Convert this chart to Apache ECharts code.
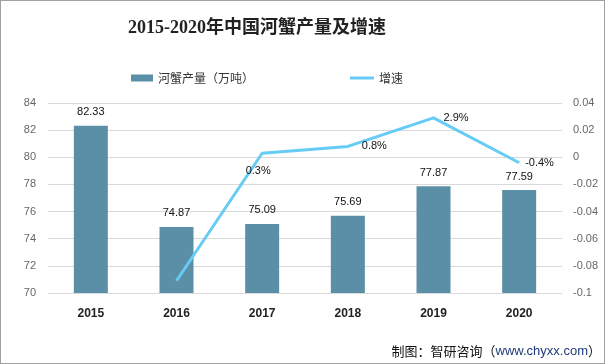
<!DOCTYPE html>
<html><head><meta charset="utf-8">
<script src="https://cdn.jsdelivr.net/npm/echarts@6/dist/echarts.min.js"></script>
<style>html,body{margin:0;padding:0;background:#fff}#c{width:605px;height:364px;box-sizing:border-box;border:1px solid #a0a0a0}</style>
</head><body><div id="c"></div>
<script>
var categories = ['2015','2016','2017','2018','2019','2020'];
var output = [82.33, 74.87, 75.09, 75.69, 77.87, 77.59];
var growth = [null, -0.091, 0.003, 0.008, 0.029, -0.004];
var growthLabels = ['', '', '0.3%', '0.8%', '2.9%', '-0.4%'];

var chart = echarts.init(document.getElementById('c'));
var lineData = growth.map(function(v, i){
  var d = {value: v};
  if (i === 1) d.label = {show: false};
  if (i === 2) d.label = {position: 'bottom', offset: [-4, 6]};
  if (i === 3) d.label = {distance: 14};
  if (i === 4) d.label = {distance: 10};
  return d;
});
chart.setOption({
  animation: false,
  title: {text: '2015-2020年中国河蟹产量及增速', left: 122, top: 13,
    textStyle: {fontFamily: "'Liberation Serif','Noto Sans CJK SC'", fontSize: 18, fontWeight: 'bold', color: '#222'}},
  legend: [{data: [{name: '河蟹产量（万吨）', icon: 'rect'}], left: 125, top: 66, itemWidth: 22, itemHeight: 7, itemGap: 4,
    textStyle: {fontSize: 12, color: '#333', fontFamily: "'Noto Sans CJK SC'"}},
    {data: [{name: '增速', icon: 'rect'}], left: 344, top: 66, itemWidth: 24, itemHeight: 3,
    textStyle: {fontSize: 12, color: '#333', fontFamily: "'Noto Sans CJK SC'"}}],
  grid: {left: 47, right: 42, top: 102, bottom: 70},
  xAxis: {type: 'category', data: categories, axisTick: {show: false},
    axisLine: {lineStyle: {color: '#d9d9d9'}},
    axisLabel: {color: '#222', fontWeight: 'bold', fontSize: 12, margin: 15, fontFamily: "'Liberation Sans'"}},
  yAxis: [{type: 'value', min: 70, max: 84, interval: 2,
    axisLine: {show: false}, axisTick: {show: false},
    splitLine: {lineStyle: {color: '#d9d9d9'}},
    axisLabel: {color: '#666', fontSize: 11, margin: 12, fontFamily: "'Liberation Sans'"}},
   {type: 'value', min: -0.1, max: 0.04, interval: 0.02,
    axisLine: {show: false}, axisTick: {show: false}, splitLine: {show: false},
    axisLabel: {color: '#666', fontSize: 11, margin: 11, fontFamily: "'Liberation Sans'",
      formatter: function(v){ return String(Math.round(v*100)/100); }}}],
  series: [{name: '河蟹产量（万吨）', type: 'bar', data: output, barWidth: 34,
    itemStyle: {color: '#5B8FA7'},
    label: {show: true, position: 'top', color: '#111', fontSize: 11, distance: 8, fontFamily: "'Liberation Sans'"}},
   {name: '增速', type: 'line', yAxisIndex: 1, data: lineData, symbol: 'circle', symbolSize: 0, showSymbol: true, connectNulls: false,
    lineStyle: {color: '#66CCF5', width: 3}, itemStyle: {color: '#66CCF5'},
    label: {show: true, position: 'right', distance: 6, color: '#111', fontSize: 11, fontFamily: "'Liberation Sans'",
      formatter: function(p){ return growthLabels[p.dataIndex]; }}}],
  graphic: [{type: 'text', right: 3, bottom: 5, style: {
    rich: {a: {fontSize: 13, fill: '#111', fontFamily: "'Noto Sans CJK SC'"}, b: {fontSize: 13, fill: '#1F3A7A', fontFamily: "'Liberation Sans'"}},
    text: '{a|制图：智研咨询（}{b|www.chyxx.com}{a|）}'}}]
});
</script></body></html>
